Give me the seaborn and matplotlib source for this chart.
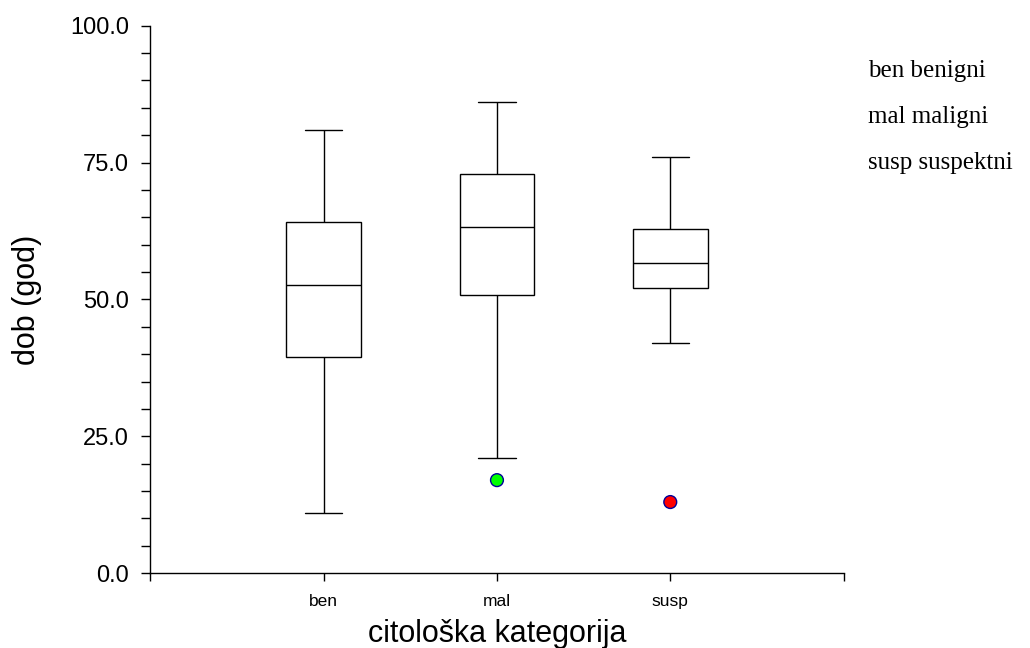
import pandas as pd
import seaborn as sns
import matplotlib.pyplot as plt
from matplotlib.ticker import MultipleLocator

# Box summaries (whisker ends, quartiles, median)
categories = ["ben", "mal", "susp"]
whisker_low = [11.0, 21.0, 42.0]
q1 = [39.5, 50.9, 52.0]
median = [52.7, 63.2, 56.7]
q3 = [64.2, 72.9, 62.9]
whisker_high = [81.0, 86.0, 76.0]

# Outliers drawn as separate points
outlier_cat = ["mal", "susp"]
outlier_val = [17.0, 13.0]
outlier_colors = ["#00ff00", "#ff0000"]

legend_lines = ["ben benigni", "mal maligni", "susp suspektni"]

# Long table: five summary values per category, whiskers = min/max
rows = []
for i, cat in enumerate(categories):
    for v in (whisker_low[i], q1[i], median[i], q3[i], whisker_high[i]):
        rows.append({"kategorija": cat, "dob": v})
df = pd.DataFrame(rows)
out_df = pd.DataFrame({"kategorija": outlier_cat, "dob": outlier_val})

sns.set_style("white")
plt.rcParams["font.family"] = ["Liberation Sans", "DejaVu Sans"]
plt.rcParams["text.color"] = "black"
plt.rcParams["axes.labelcolor"] = "black"
plt.rcParams["xtick.color"] = "black"
plt.rcParams["ytick.color"] = "black"

fig = plt.figure(figsize=(10.3, 6.48), dpi=100)
ax = fig.add_axes([0.146, 0.1154, 0.673, 0.845])

sns.boxplot(data=df, x="kategorija", y="dob", order=categories, whis=(0, 100),
            width=0.43, color="white", linecolor="black", linewidth=1.0,
            showfliers=False, ax=ax)
sns.scatterplot(data=out_df, x="kategorija", y="dob", hue="kategorija",
                palette=dict(zip(outlier_cat, outlier_colors)), s=85,
                edgecolor="#000099", linewidth=1.0, legend=False, zorder=5, ax=ax)

ax.set_xlim(-1, 3)
ax.set_ylim(0, 100)
ax.set_xticks([-1, 0, 1, 2, 3])
ax.set_xticklabels([""] + categories + [""])
ax.yaxis.set_major_locator(MultipleLocator(25))
ax.yaxis.set_minor_locator(MultipleLocator(5))
ax.set_yticklabels([f"{t:.1f}" for t in ax.get_yticks()])

for side in ("top", "right"):
    ax.spines[side].set_visible(False)
for side in ("left", "bottom"):
    ax.spines[side].set_color("black")
    ax.spines[side].set_linewidth(1.0)

ax.tick_params(axis="y", which="both", direction="out", length=6.3, width=1.0,
               left=True, labelsize=17, pad=9)
ax.tick_params(axis="x", direction="out", length=6, width=1.0, bottom=True,
               labelsize=12.5, pad=9)

ax.set_xlabel("citološka kategorija", fontsize=22, labelpad=7)
ax.set_ylabel("dob (god)", fontsize=22, labelpad=20)

for k, line in enumerate(legend_lines):
    fig.text(868 / 1030, 1 - (77 + 46 * k) / 648, line, fontsize=18,
             family=["Liberation Serif", "DejaVu Serif"], va="baseline", ha="left")

fig.savefig("out.png", dpi=100)
